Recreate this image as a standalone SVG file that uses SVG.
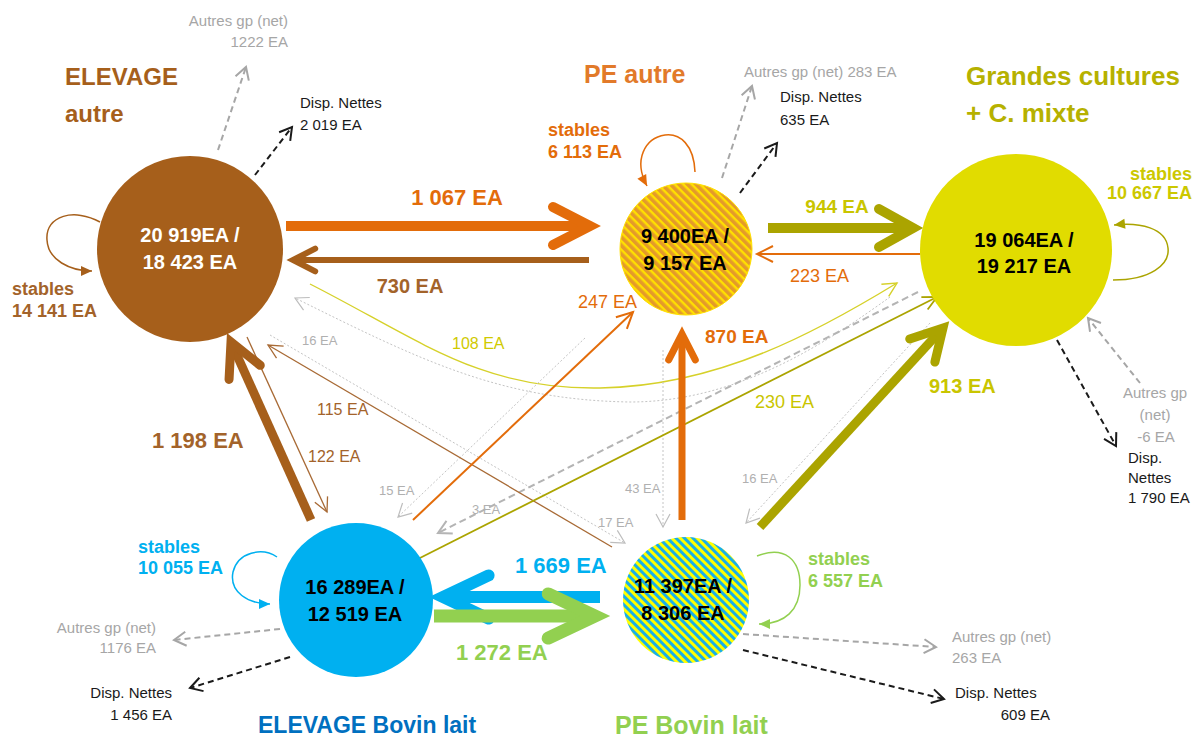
<svg xmlns="http://www.w3.org/2000/svg" width="1193" height="737" viewBox="0 0 1193 737">
<style>
text{font-family:"Liberation Sans",Arial,sans-serif}
.b{font-weight:bold}
.mid{text-anchor:middle}
.end{text-anchor:end}
.ct{font-size:20px;font-weight:bold;text-anchor:middle}
.st{font-size:18px;font-weight:bold}
.lbl{font-size:16px}
.sm{font-size:13px;fill:#B0B0B0}
.ext{font-size:15px}
.gry{fill:#A6A6A6}
.blk{fill:#1A1A1A}
.thick{fill:none;stroke-linecap:butt}
.thin{fill:none}
.dot{fill:none;stroke:#C4C4C4;stroke-width:1;stroke-dasharray:2 2}
.dg{fill:none;stroke:#A6A6A6;stroke-width:2;stroke-dasharray:6 4;marker-end:url(#tG2)}
.dk{fill:none;stroke:#1A1A1A;stroke-width:2;stroke-dasharray:6 4;marker-end:url(#tK)}
.loop{fill:none;stroke-width:1.5}
</style>
<defs>
<pattern id="hatchO" width="6" height="6" patternUnits="userSpaceOnUse" patternTransform="rotate(-45)">
<rect width="6" height="6" fill="#FFE000"/><rect width="3.6" height="6" fill="#E49A2A"/>
</pattern>
<pattern id="hatchB" width="6" height="6" patternUnits="userSpaceOnUse" patternTransform="rotate(-45)">
<rect width="6" height="6" fill="#FFFF00"/><rect width="3" height="6" fill="#1AAFE6"/>
</pattern>
<marker id="hO" viewBox="-5 -3 7 6" markerWidth="7" markerHeight="6" orient="auto" markerUnits="strokeWidth" overflow="visible"><path d="M-3.7,-1.9 L0,0 L-3.7,1.9" fill="none" stroke="#E36C0A" stroke-width="1" stroke-linecap="round"/></marker>
<marker id="hBr" viewBox="-5 -3 7 6" markerWidth="7" markerHeight="6" orient="auto" markerUnits="strokeWidth" overflow="visible"><path d="M-3.7,-1.9 L0,0 L-3.7,1.9" fill="none" stroke="#A65F1B" stroke-width="1" stroke-linecap="round"/></marker>
<marker id="hOl" viewBox="-5 -3 7 6" markerWidth="7" markerHeight="6" orient="auto" markerUnits="strokeWidth" overflow="visible"><path d="M-3.4,-1.9 L0,0 L-3.4,1.9" fill="none" stroke="#ABA400" stroke-width="1" stroke-linecap="round"/></marker>
<marker id="hBl" viewBox="-5 -3 7 6" markerWidth="7" markerHeight="6" orient="auto" markerUnits="strokeWidth" overflow="visible"><path d="M-3.8,-1.8 L0,0 L-3.8,1.8" fill="none" stroke="#00B0F0" stroke-width="1" stroke-linecap="round"/></marker>
<marker id="hGn" viewBox="-5 -3 7 6" markerWidth="7" markerHeight="6" orient="auto" markerUnits="strokeWidth" overflow="visible"><path d="M-3.6,-1.7 L0,0 L-3.6,1.7" fill="none" stroke="#92D050" stroke-width="1" stroke-linecap="round"/></marker>
<marker id="tO" viewBox="-18 -10 20 20" markerWidth="20" markerHeight="20" orient="auto" markerUnits="userSpaceOnUse" overflow="visible"><path d="M-16,-8 L0,0 L-16,8" fill="none" stroke="#E36C0A" stroke-width="2"/></marker>
<marker id="tBr" viewBox="-18 -10 20 20" markerWidth="20" markerHeight="20" orient="auto" markerUnits="userSpaceOnUse" overflow="visible"><path d="M-14,-7 L0,0 L-14,7" fill="none" stroke="#A86A35" stroke-width="1.3"/></marker>
<marker id="tOl" viewBox="-18 -10 20 20" markerWidth="20" markerHeight="20" orient="auto" markerUnits="userSpaceOnUse" overflow="visible"><path d="M-14,-7 L0,0 L-14,7" fill="none" stroke="#ABA400" stroke-width="1.8"/></marker>
<marker id="tY" viewBox="-18 -10 20 20" markerWidth="20" markerHeight="20" orient="auto" markerUnits="userSpaceOnUse" overflow="visible"><path d="M-14,-7 L0,0 L-14,7" fill="none" stroke="#D6D12A" stroke-width="1.4"/></marker>
<marker id="tG" viewBox="-18 -10 20 20" markerWidth="20" markerHeight="20" orient="auto" markerUnits="userSpaceOnUse" overflow="visible"><path d="M-13,-7 L0,0 L-13,7" fill="none" stroke="#BDBDBD" stroke-width="1.2"/></marker>
<marker id="tG2" viewBox="-18 -10 20 20" markerWidth="20" markerHeight="20" orient="auto" markerUnits="userSpaceOnUse" overflow="visible"><path d="M-12,-7 L0,0 L-12,7" fill="none" stroke="#A6A6A6" stroke-width="2"/></marker>
<marker id="tG3" viewBox="-18 -10 20 20" markerWidth="20" markerHeight="20" orient="auto" markerUnits="userSpaceOnUse" overflow="visible"><path d="M-13,-7 L0,0 L-13,7" fill="none" stroke="#B4B4B4" stroke-width="2"/></marker>
<marker id="tK" viewBox="-18 -10 20 20" markerWidth="20" markerHeight="20" orient="auto" markerUnits="userSpaceOnUse" overflow="visible"><path d="M-12,-7 L0,0 L-12,7" fill="none" stroke="#1A1A1A" stroke-width="2"/></marker>
<marker id="fBr" viewBox="-12 -6 13 12" markerWidth="13" markerHeight="12" orient="auto" markerUnits="userSpaceOnUse"><path d="M-11,-5 L0,0 L-11,5 Z" fill="#A65F1B"/></marker>
<marker id="fO" viewBox="-12 -6 13 12" markerWidth="13" markerHeight="12" orient="auto" markerUnits="userSpaceOnUse"><path d="M-11,-5 L0,0 L-11,5 Z" fill="#E36C0A"/></marker>
<marker id="fOl" viewBox="-12 -6 13 12" markerWidth="13" markerHeight="12" orient="auto" markerUnits="userSpaceOnUse"><path d="M-11,-5 L0,0 L-11,5 Z" fill="#ABA400"/></marker>
<marker id="fBl" viewBox="-12 -6 13 12" markerWidth="13" markerHeight="12" orient="auto" markerUnits="userSpaceOnUse"><path d="M-11,-5 L0,0 L-11,5 Z" fill="#00B0F0"/></marker>
<marker id="fGn" viewBox="-12 -6 13 12" markerWidth="13" markerHeight="12" orient="auto" markerUnits="userSpaceOnUse"><path d="M-11,-5 L0,0 L-11,5 Z" fill="#92D050"/></marker>
</defs>
<rect width="1193" height="737" fill="#FFFFFF"/>

<g id="connectors">
<!-- thin cross flows -->
<path class="dot" d="M890,297 C830,340 740,402 630,402 C500,400 420,360 295,298" marker-end="url(#tG)"/>
<path class="thin" d="M310,284 C420,340 480,390 600,388 C720,386 820,330 897,283" stroke="#D6D12A" stroke-width="1.4" marker-end="url(#tY)"/>
<path class="dot" d="M270,335 L625,543" marker-end="url(#tG)"/>
<path class="dot" d="M585,338 L398,517" marker-end="url(#tG)"/>
<path class="dot" d="M663,350 L663,527" marker-end="url(#tG)"/>
<path class="dot" d="M930,323 L746,523" marker-end="url(#tG)"/>
<path class="thin" d="M918,292 L438,533" stroke="#B4B4B4" stroke-width="2" stroke-dasharray="7 4" marker-end="url(#tG3)"/>
<path class="thin" d="M247,337 L327,512" stroke="#A86A35" stroke-width="1.3" marker-end="url(#tBr)"/>
<path class="thin" d="M612,547 L268,345" stroke="#A86A35" stroke-width="1.3" marker-end="url(#tBr)"/>
<path class="thin" d="M413,520 L633,312" stroke="#E36C0A" stroke-width="2" marker-end="url(#tO)"/>
<path class="thin" d="M412,562 L937,297" stroke="#ABA400" stroke-width="1.8" marker-end="url(#tOl)"/>
<path class="thin" d="M920,254 L757,254" stroke="#E36C0A" stroke-width="2" marker-end="url(#tO)"/>
<!-- thick flows -->
<path class="thick" d="M286,226 L590,226" stroke="#E36C0A" stroke-width="10" marker-end="url(#hO)"/>
<path class="thick" d="M589,260 L293,260" stroke="#A65F1B" stroke-width="6" marker-end="url(#hBr)"/>
<path class="thick" d="M768,228 L913,228" stroke="#ABA400" stroke-width="10" marker-end="url(#hOl)"/>
<path class="thick" d="M682,520 L682,334" stroke="#E36C0A" stroke-width="7" marker-end="url(#hO)"/>
<path class="thick" d="M760,527 L943,328" stroke="#ABA400" stroke-width="9" marker-end="url(#hOl)"/>
<path class="thick" d="M311,520 L231,342" stroke="#A65F1B" stroke-width="9" marker-end="url(#hBr)"/>
<path class="thick" d="M600,597 L443,597" stroke="#00B0F0" stroke-width="12" marker-end="url(#hBl)"/>
<path class="thick" d="M434,616 L595,616" stroke="#92D050" stroke-width="13" marker-end="url(#hGn)"/>
<!-- self loops -->
<path class="loop" d="M100,222 C75,208 45,215 47,240 C48,260 70,271 92,271" stroke="#A65F1B" marker-end="url(#fBr)"/>
<path class="loop" d="M695,172 C694,145 680,133 665,135 C645,138 633,160 647,186" stroke="#E36C0A" marker-end="url(#fO)"/>
<path class="loop" d="M1113,280 C1150,280 1170,265 1168,248 C1166,228 1140,222 1114,225" stroke="#ABA400" marker-end="url(#fOl)"/>
<path class="loop" d="M277,557 C262,547 238,552 233,572 C229,592 248,604 270,604" stroke="#00B0F0" marker-end="url(#fBl)"/>
<path class="loop" d="M757,556 C785,545 800,560 800,585 C800,610 785,624 759,624" stroke="#92D050" marker-end="url(#fGn)"/>
<!-- external dashed -->
<path class="dg" d="M218,150 L246,67"/>
<path class="dk" d="M255,175 L292,127"/>
<path class="dg" d="M722,178 L752,86"/>
<path class="dk" d="M740,193 L777,143"/>
<path class="dk" d="M1057,340 L1116,446"/>
<path class="dg" d="M1140,383 L1088,318"/>
<path class="dg" d="M280,629 L174,640"/>
<path class="dk" d="M290,657 L190,688"/>
<path class="dg" d="M743,634 L936,647"/>
<path class="dk" d="M743,650 L944,699"/>
</g>

<g id="node-elevage-autre">
<circle cx="190" cy="249" r="93" fill="#A65F1B"/>
<text class="ct" x="190" y="242" fill="#FFFFFF">20 919EA /</text>
<text class="ct" x="190" y="269" fill="#FFFFFF">18 423 EA</text>
<text class="b" x="65" y="85" font-size="24" fill="#A65F1B">ELEVAGE</text>
<text class="b" x="65" y="122" font-size="24" fill="#A65F1B">autre</text>
<text class="st" x="12" y="295" fill="#A3632A">stables</text>
<text class="st" x="12" y="317" fill="#A3632A">14 141 EA</text>
</g>

<g id="node-pe-autre">
<circle cx="686" cy="249" r="66" fill="url(#hatchO)" stroke="#FFE000" stroke-width="1"/>
<text class="ct" x="685" y="243" fill="#000000">9 400EA /</text>
<text class="ct" x="685" y="270" fill="#000000">9 157 EA</text>
<text class="b" x="584" y="83" font-size="25" fill="#E27A2A">PE autre</text>
<text class="st" x="548" y="136" fill="#E36C0A">stables</text>
<text class="st" x="548" y="158" fill="#E36C0A">6 113 EA</text>
</g>

<g id="node-grandes-cultures">
<circle cx="1016" cy="250" r="96" fill="#E1DC00"/>
<text class="ct" x="1024" y="247" fill="#000000">19 064EA /</text>
<text class="ct" x="1024" y="273" fill="#000000">19 217 EA</text>
<text class="b" x="966" y="85" font-size="26" fill="#B6B100">Grandes cultures</text>
<text class="b" x="966" y="122" font-size="26" fill="#B6B100">+ C. mixte</text>
<text class="st end" x="1192" y="180" fill="#CCC800">stables</text>
<text class="st end" x="1192" y="199" fill="#CCC800">10 667 EA</text>
</g>

<g id="node-elevage-bovin-lait">
<circle cx="356" cy="600" r="77" fill="#00B0F0"/>
<text class="ct" x="355" y="594" fill="#000000">16 289EA /</text>
<text class="ct" x="355" y="621" fill="#000000">12 519 EA</text>
<text class="b" x="258" y="733" font-size="23" fill="#0070C0">ELEVAGE Bovin lait</text>
<text class="st" x="138" y="553" fill="#00B0F0">stables</text>
<text class="st" x="138" y="574" fill="#00B0F0">10 055 EA</text>
</g>

<g id="node-pe-bovin-lait">
<circle cx="686" cy="600" r="63" fill="url(#hatchB)"/>
<text class="ct" x="683" y="593" fill="#000000">11 397EA /</text>
<text class="ct" x="683" y="620" fill="#000000">8 306 EA</text>
<text class="b" x="615" y="734" font-size="25" fill="#92D050">PE Bovin lait</text>
<text class="st" x="808" y="565" fill="#92D050">stables</text>
<text class="st" x="808" y="587" fill="#92D050">6 557 EA</text>
</g>

<g id="flow-labels">
<text class="b mid" x="457" y="205" font-size="22" fill="#E36C0A">1 067 EA</text>
<text class="b mid" x="410" y="293" font-size="20" fill="#A3632A">730 EA</text>
<text class="b mid" x="837" y="213" font-size="19" fill="#C9C500">944 EA</text>
<text class="b" x="705" y="343" font-size="19" fill="#E36C0A">870 EA</text>
<text class="b" x="929" y="393" font-size="20" fill="#C9C500">913 EA</text>
<text class="b" x="152" y="448" font-size="22" fill="#A3632A">1 198 EA</text>
<text class="b" x="515" y="573" font-size="22" fill="#00B0F0">1 669 EA</text>
<text class="b" x="456" y="660" font-size="22" fill="#92D050">1 272 EA</text>
<text x="790" y="282" font-size="18" fill="#E36C0A">223 EA</text>
<text x="578" y="308" font-size="18" fill="#E36C0A">247 EA</text>
<text class="lbl" x="452" y="349" fill="#D0CA00">108 EA</text>
<text x="755" y="408" font-size="18" fill="#C9C500">230 EA</text>
<text class="lbl" x="317" y="415" fill="#A3632A">115 EA</text>
<text class="lbl" x="308" y="462" fill="#A3632A">122 EA</text>
<text class="sm" x="302" y="345">16 EA</text>
<text class="sm" x="379" y="495">15 EA</text>
<text class="sm" x="472" y="514">3 EA</text>
<text class="sm" x="625" y="493">43 EA</text>
<text class="sm" x="598" y="527">17 EA</text>
<text class="sm" x="742" y="483">16 EA</text>
</g>

<g id="external-labels">
<text class="ext gry end" x="288" y="26">Autres gp (net)</text>
<text class="ext gry end" x="288" y="47">1222 EA</text>
<text class="ext blk" x="300" y="108">Disp. Nettes</text>
<text class="ext blk" x="300" y="130">2 019 EA</text>
<text class="ext gry" x="744" y="77">Autres gp (net) 283 EA</text>
<text class="ext blk" x="780" y="102">Disp. Nettes</text>
<text class="ext blk" x="780" y="125">635 EA</text>
<text class="ext gry mid" x="1155" y="398">Autres gp</text>
<text class="ext gry mid" x="1155" y="420">(net)</text>
<text class="ext gry mid" x="1156" y="442">-6 EA</text>
<text class="ext blk" x="1128" y="463">Disp.</text>
<text class="ext blk" x="1128" y="483">Nettes</text>
<text class="ext blk" x="1128" y="503">1 790 EA</text>
<text class="ext gry end" x="156" y="633">Autres gp (net)</text>
<text class="ext gry end" x="156" y="653">1176 EA</text>
<text class="ext blk end" x="172" y="698">Disp. Nettes</text>
<text class="ext blk end" x="172" y="720">1 456 EA</text>
<text class="ext gry" x="952" y="642">Autres gp (net)</text>
<text class="ext gry" x="952" y="663">263 EA</text>
<text class="ext blk" x="955" y="698">Disp. Nettes</text>
<text class="ext blk end" x="1050" y="720">609 EA</text>
</g>
</svg>
